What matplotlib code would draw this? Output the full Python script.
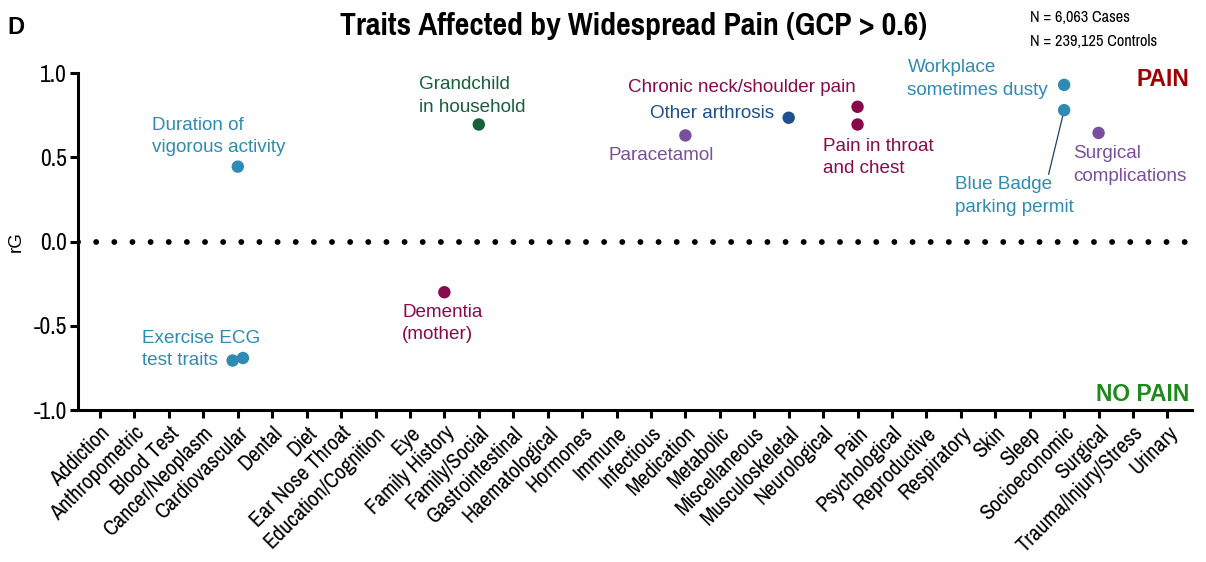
import matplotlib
matplotlib.use("Agg")
import matplotlib.pyplot as plt
from matplotlib import font_manager

names = {f.name for f in font_manager.fontManager.ttflist}
narrow = "Liberation Sans"
for cand in ["Arial Narrow", "Liberation Sans Narrow", "Pragati Narrow", "Archivo Narrow",
             "PT Sans Narrow", "Roboto Condensed"]:
    if cand in names:
        narrow = cand
        break
plt.rcParams["font.family"] = ["Liberation Sans", "DejaVu Sans"]

# categories on the x axis
categories = ["Addiction", "Anthropometric", "Blood Test", "Cancer/Neoplasm", "Cardiovascular",
              "Dental", "Diet", "Ear Nose Throat", "Education/Cognition", "Eye",
              "Family History", "Family/Social", "Gastrointestinal", "Haematological",
              "Hormones", "Immune", "Infectious", "Medication", "Metabolic", "Miscellaneous",
              "Musculoskeletal", "Neurological", "Pain", "Psychological", "Reproductive",
              "Respiratory", "Skin", "Sleep", "Socioeconomic", "Surgical",
              "Trauma/Injury/Stress", "Urinary"]

# significant traits: category, small horizontal jitter, rG
trait_cat = ["Cardiovascular", "Cardiovascular", "Cardiovascular", "Family History",
             "Family/Social", "Medication", "Musculoskeletal", "Pain", "Pain",
             "Socioeconomic", "Socioeconomic", "Surgical"]
trait_jitter = [0.0, -0.15, 0.15, 0.0, 0.0, 0.0, 0.0, 0.0, 0.0, 0.0, 0.0, 0.0]
trait_rg = [0.445, -0.705, -0.69, -0.30, 0.695, 0.63, 0.735, 0.80, 0.695, 0.93, 0.78, 0.645]
trait_color = ["#2f8bb3", "#2f8bb3", "#2f8bb3", "#880a4b", "#16603a", "#7b4f9f",
               "#1f4f8f", "#880a4b", "#880a4b", "#2f8bb3", "#2f8bb3", "#7b4f9f"]

# annotation texts (x, y in data units, left aligned, vertically centred)
label_text = ["Duration of\nvigorous activity", "Exercise ECG\ntest traits", "Dementia\n(mother)",
              "Grandchild\nin household", "Chronic neck/shoulder pain", "Other arthrosis",
              "Paracetamol", "Pain in throat\nand chest", "Workplace\nsometimes dusty",
              "Blue Badge\nparking permit", "Surgical\ncomplications"]
label_x = [2.51, 2.22, 9.77, 10.26, 16.33, 16.97, 15.78, 21.99, 24.45, 25.82, 29.27]
label_y = [0.625, -0.64, -0.485, 0.865, 0.915, 0.76, 0.51, 0.50, 0.965, 0.27, 0.455]
label_color = ["#2f8bb3", "#2f8bb3", "#880a4b", "#16603a", "#880a4b", "#1f4f8f",
               "#7b4f9f", "#880a4b", "#2f8bb3", "#2f8bb3", "#7b4f9f"]

pos = {c: i + 1 for i, c in enumerate(categories)}

fig = plt.figure(figsize=(12.06, 5.62), dpi=100)
ax = fig.add_axes([0.0647, 0.270, 0.9233, 0.600])

xs = [pos[c] + j for c, j in zip(trait_cat, trait_jitter)]
ax.scatter(xs, trait_rg, s=80, c=trait_color, zorder=3, linewidths=0)

ax.axhline(0, color="black", lw=4.2, linestyle=(0, (0.01, 3.1)),
           dash_capstyle="round", zorder=2)

for t, x, y, c in zip(label_text, label_x, label_y, label_color):
    ax.text(x, y, t, color=c, fontsize=13.6, ha="left", va="center", linespacing=1.42)

# leader line for Blue Badge
ax.plot([pos["Socioeconomic"], 28.55], [0.78, 0.40], color="#1f3f6f", lw=0.9, zorder=2)

ax.set_xlim(0.36, 32.7)
ax.set_ylim(-1, 1)
ax.set_xticks(range(1, len(categories) + 1))
ax.set_xticklabels(categories, rotation=45, ha="right", rotation_mode="anchor",
                   fontsize=17.3, family=narrow)
ax.set_yticks([-1, -0.5, 0, 0.5, 1])
ax.set_yticklabels(["-1.0", "-0.5", "0.0", "0.5", "1.0"], fontsize=18.5, family=narrow)
ax.tick_params(axis="both", width=2.2, length=6, pad=3)
ax.tick_params(axis="y", pad=2)
for s in ["top", "right"]:
    ax.spines[s].set_visible(False)
for s in ["left", "bottom"]:
    ax.spines[s].set_linewidth(2.2)
ax.set_ylabel("rG", fontsize=13.5, labelpad=6)

ax.text(0.998, 0.982, "PAIN", transform=ax.transAxes, ha="right", va="center",
        color="#a00000", fontsize=16.5, fontweight="bold")
ax.text(0.998, 0.047, "NO PAIN", transform=ax.transAxes, ha="right", va="center",
        color="#1d8a1d", fontsize=16.5, fontweight="bold")

fig.text(0.525, 0.953, "Traits Affected by Widespread Pain (GCP > 0.6)", ha="center",
         va="center", fontsize=25, fontweight="bold", family=narrow)
fig.text(0.006, 0.951, "D", fontsize=17, fontweight="bold", va="center")
fig.text(0.854, 0.968, "N = 6,063 Cases", fontsize=12.8, family=narrow, va="center")
fig.text(0.854, 0.926, "N = 239,125 Controls", fontsize=12.8, family=narrow, va="center")

fig.savefig("out.png", dpi=100)
